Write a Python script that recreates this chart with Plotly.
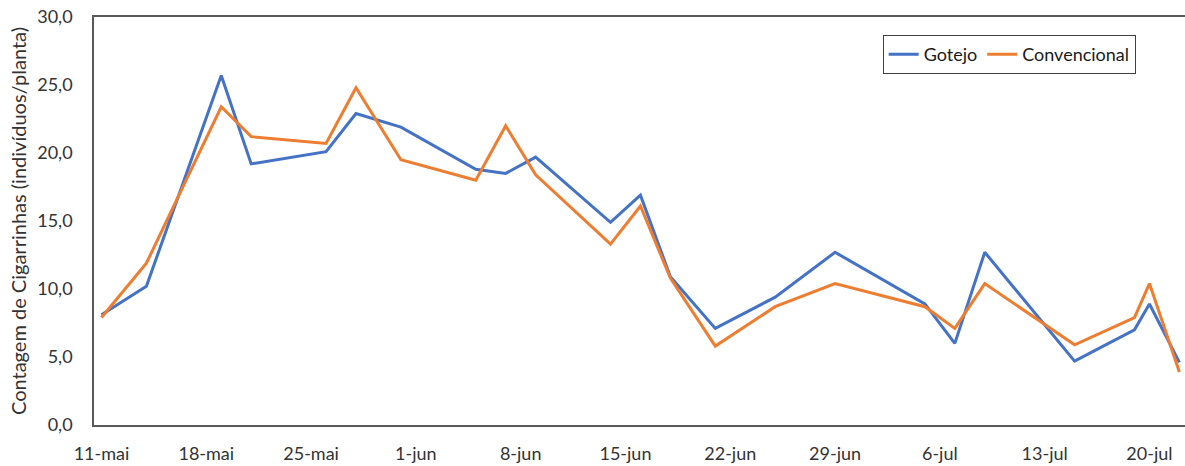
import plotly.graph_objects as go

dates = ["2021-05-11", "2021-05-14", "2021-05-19", "2021-05-21", "2021-05-26", "2021-05-28",
         "2021-05-31", "2021-06-05", "2021-06-07", "2021-06-09", "2021-06-14", "2021-06-16",
         "2021-06-18", "2021-06-21", "2021-06-25", "2021-06-29", "2021-07-05", "2021-07-07",
         "2021-07-09", "2021-07-15", "2021-07-19", "2021-07-20", "2021-07-22"]
gotejo = [8.1, 10.2, 25.7, 19.2, 20.1, 22.9, 21.9, 18.8, 18.5, 19.7, 14.9, 16.9,
          10.9, 7.1, 9.4, 12.7, 8.9, 6.0, 12.7, 4.7, 7.0, 8.9, 4.6]
convencional = [7.9, 11.9, 23.4, 21.2, 20.7, 24.8, 19.5, 18.0, 22.0, 18.4, 13.3, 16.1,
                10.8, 5.8, 8.7, 10.4, 8.7, 7.1, 10.4, 5.9, 7.9, 10.4, 3.9]

tick_dates = ["2021-05-11", "2021-05-18", "2021-05-25", "2021-06-01", "2021-06-08", "2021-06-15",
              "2021-06-22", "2021-06-29", "2021-07-06", "2021-07-13", "2021-07-20"]
tick_labels = ["11-mai", "18-mai", "25-mai", "1-jun", "8-jun", "15-jun",
               "22-jun", "29-jun", "6-jul", "13-jul", "20-jul"]

FONT = "Lato"
TXT = "#333333"

fig = go.Figure()
fig.add_trace(go.Scatter(x=dates, y=gotejo, mode="lines", name="Gotejo",
                         line=dict(color="#4472C4", width=3)))
fig.add_trace(go.Scatter(x=dates, y=convencional, mode="lines", name="Convencional",
                         line=dict(color="#ED7D31", width=3)))

fig.update_layout(
    width=1185, height=466,
    margin=dict(l=94, r=0, t=17, b=41),
    paper_bgcolor="white", plot_bgcolor="white",
    separators=",.",
    font=dict(family=FONT, size=18, color=TXT),
    showlegend=True,
    legend=dict(orientation="h", x=0.7229, y=0.956, xanchor="left", yanchor="top",
                bordercolor="#404040", borderwidth=1, bgcolor="white",
                font=dict(family=FONT, size=18, color="#1a1a1a"),
                itemwidth=30, tracegroupgap=0),
)
fig.update_xaxes(
    type="date",
    range=["2021-05-10 12:00", "2021-07-22 09:00"],
    tickmode="array", tickvals=tick_dates, ticktext=tick_labels,
    ticks="", showgrid=False, zeroline=False,
    showline=True, linecolor="#595959", linewidth=1.5, mirror=True,
    ticklabelstandoff=12,
    tickfont=dict(family=FONT, size=18, color=TXT),
)
fig.update_yaxes(
    range=[0, 30], dtick=5, tick0=0, tickformat=".1f",
    ticks="", showgrid=False, zeroline=False,
    showline=True, linecolor="#595959", linewidth=1.5,
    ticklabelstandoff=16,
    tickfont=dict(family=FONT, size=18, color=TXT),
    title=dict(text="Contagem de Cigarrinhas (indivíduos/planta)",
               font=dict(family=FONT, size=20, color=TXT), standoff=5),
)

fig.write_html("out.html")
